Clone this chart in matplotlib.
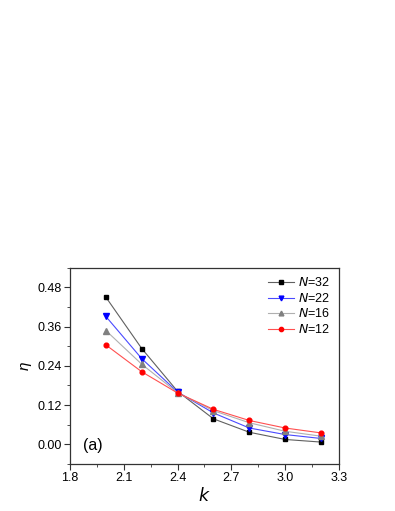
import matplotlib
matplotlib.use("Agg")
import matplotlib.pyplot as plt
from matplotlib.ticker import MultipleLocator

k = [2.0, 2.2, 2.4, 2.6, 2.8, 3.0, 3.2]
eta_32 = [0.450, 0.293, 0.162, 0.078, 0.037, 0.015, 0.007]
eta_22 = [0.391, 0.262, 0.160, 0.096, 0.050, 0.030, 0.018]
eta_16 = [0.348, 0.245, 0.158, 0.103, 0.066, 0.040, 0.025]
eta_12 = [0.304, 0.222, 0.157, 0.107, 0.073, 0.050, 0.035]
labels = [r"$\it{N}$=32", r"$\it{N}$=22", r"$\it{N}$=16", r"$\it{N}$=12"]

plt.rcParams['font.family'] = ['Liberation Sans', 'DejaVu Sans']
fig = plt.figure(figsize=(3.95, 5.11), dpi=100)
ax = fig.add_axes([70.0/395, 1 - 464/511, (339 - 70.0)/395, (464 - 267.7)/511])

ax.plot(k, eta_32, color='#606060', lw=0.8, marker='s', ms=3.2, mfc='black', mec='black', label=labels[0])
ax.plot(k, eta_22, color='#4a4aff', lw=0.8, marker='v', ms=3.8, mfc='blue', mec='blue', label=labels[1])
ax.plot(k, eta_16, color='#b0b0b0', lw=0.8, marker='^', ms=3.8, mfc='#808080', mec='#808080', label=labels[2])
ax.plot(k, eta_12, color='#ff5050', lw=0.8, marker='o', ms=3.4, mfc='red', mec='red', label=labels[3])

ax.set_xlim(1.8, 3.3)
ax.set_ylim(-0.06, 0.54)
ax.xaxis.set_minor_locator(MultipleLocator(0.15))
ax.yaxis.set_minor_locator(MultipleLocator(0.06))
ax.set_xticks([1.8, 2.1, 2.4, 2.7, 3.0, 3.3])
ax.set_xticklabels(["1.8", "2.1", "2.4", "2.7", "3.0", "3.3"])
ax.set_yticks([0.0, 0.12, 0.24, 0.36, 0.48])
ax.set_yticklabels(["0.00", "0.12", "0.24", "0.36", "0.48"])
ax.tick_params(which='major', direction='out', length=4, width=0.8, labelsize=9, pad=2,
               top=False, right=False, colors='#333333', labelcolor='black')
ax.tick_params(which='minor', direction='out', length=2.2, width=0.6, top=False, right=False, colors='#333333')
for s in ax.spines.values():
    s.set_linewidth(0.9)
    s.set_color('#333333')

ax.set_xlabel(r"$\it{k}$", fontsize=12.5, labelpad=1)
ax.set_ylabel("η", fontsize=11, style='italic', labelpad=4)
ax.text(0.05, 0.07, "(a)", transform=ax.transAxes, fontsize=11.5)

ax.legend(loc='upper right', frameon=False, fontsize=9, handlelength=2.1, handletextpad=0.3,
          labelspacing=0.2, borderaxespad=0.3, markerscale=0.9)

fig.savefig("out.png", dpi=100)
